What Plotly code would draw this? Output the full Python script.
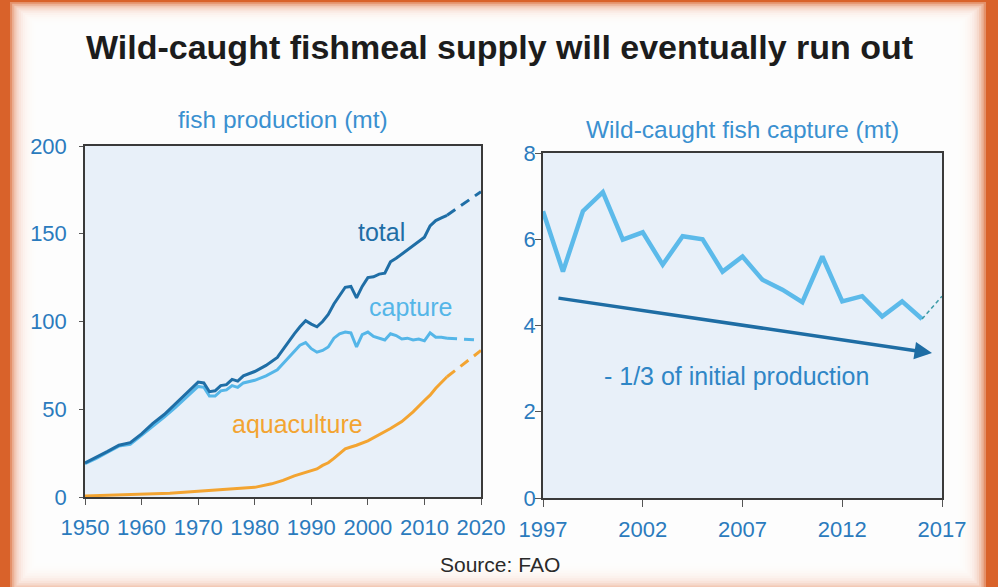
import plotly.graph_objects as go

W, H = 998, 587
FONT = "Liberation Sans, Arial, sans-serif"

# ---------------- data: left chart (fish production, mt) ----------------
total_years = [1950, 1952, 1954, 1956, 1958, 1960, 1962, 1964, 1966, 1968, 1969, 1970,
               1971, 1972, 1973, 1974, 1975, 1976, 1977, 1978, 1980, 1982, 1984, 1985,
               1986, 1987, 1988, 1989, 1990, 1991, 1992, 1993, 1994, 1995, 1996, 1997,
               1998, 1999, 2000, 2001, 2002, 2003, 2004, 2005, 2006, 2007, 2008, 2009,
               2010, 2011, 2012, 2013, 2014]
total_vals = [19.4, 22.5, 26, 29.5, 31, 36, 42, 47, 53, 59, 62, 65.5,
              65, 60, 60.5, 63.5, 64, 67, 66, 69, 71.5, 75, 79.5, 84,
              89, 93, 97, 100.5, 98.5, 97, 100, 104, 110, 115, 119.5, 120,
              113.5, 120, 125, 125.5, 127, 127.5, 134, 136, 138.5, 140.5, 143, 145.5,
              148, 154.5, 157.5, 159, 160.5]
capture_vals = [19, 22, 25.5, 29, 30, 35, 40.5, 45.5, 51, 57, 60, 63,
                62.5, 57.5, 57.5, 60.5, 61, 63.5, 62.5, 65, 66.5, 69, 72.5, 76,
                79.5, 83.5, 86.5, 88, 84.5, 82.5, 83.5, 85.5, 90.5, 93, 94, 93.5,
                85.5, 92.5, 94, 91.5, 90.5, 89.5, 93, 92, 90, 90.5, 89.5, 90,
                89, 93.5, 91, 91, 90.5]
aqua_years = [1950, 1955, 1960, 1965, 1970, 1975, 1980, 1983, 1985, 1987, 1989, 1990,
              1991, 1992, 1993, 1994, 1995, 1996, 1997, 1998, 2000, 2002, 2004, 2006,
              2008, 2010, 2011, 2012, 2013, 2014]
aqua_vals = [0.6, 1, 1.5, 2.2, 3.3, 4.5, 5.5, 7.5, 9.5, 12, 14, 14.8,
             16, 18, 19.5, 22, 25, 27.5, 28.5, 29.5, 32, 35.5, 39, 43,
             48.5, 55, 58, 62, 65.5, 68.5]
# projected (dashed) segments
proj_years = [2014, 2020]
total_proj = [160.5, 174]
capture_proj = [90.5, 89.3]
aqua_proj = [68.5, 83.5]

left_xticks = [1950, 1960, 1970, 1980, 1990, 2000, 2010, 2020]
left_yticks = [0, 50, 100, 150, 200]

# ---------------- data: right chart (wild-caught fish capture, mt) ----------------
wild_years = list(range(1997, 2017))
wild_vals = [6.65, 5.25, 6.65, 7.09, 5.99, 6.16, 5.41, 6.07, 6.0, 5.25,
             5.6, 5.06, 4.83, 4.54, 5.6, 4.56, 4.68, 4.21, 4.56, 4.15]
wild_proj_years = [2016, 2017]
wild_proj_vals = [4.15, 4.68]
trend_start = [1997.7, 4.64]
trend_end = [2016.5, 3.36]

right_xticks = [1997, 2002, 2007, 2012, 2017]
right_yticks = [0, 2, 4, 6, 8]

# ---------------- colours ----------------
C_TOTAL = "#1f6ea6"
C_CAPTURE = "#55b6e8"
C_AQUA = "#f3a431"
C_TICK = "#2b7bbd"
C_TITLE2 = "#3a90d0"
C_ORANGE = "#d9622a"

fig = go.Figure()

def line(x, y, color, width, dash=None, xa="x", ya="y"):
    fig.add_trace(go.Scatter(x=x, y=y, mode="lines", xaxis=xa, yaxis=ya,
                             line=dict(color=color, width=width, dash=dash),
                             hoverinfo="skip", showlegend=False))

line(aqua_years, aqua_vals, C_AQUA, 3)
line(proj_years, aqua_proj, C_AQUA, 3, "10px,7px")
line(total_years, capture_vals, C_CAPTURE, 3)
line(proj_years, capture_proj, C_CAPTURE, 3, "10px,7px")
line(total_years, total_vals, C_TOTAL, 3)
line(proj_years, total_proj, C_TOTAL, 3, "10px,7px")

line(wild_years, wild_vals, "#5cbaea", 4.5, xa="x2", ya="y2")
line(wild_proj_years, wild_proj_vals, "#3a9aa6", 1.5, "4px,3px", xa="x2", ya="y2")

# ---------------- frame shapes (orange border fading to white) ----------------
shapes = []
N = 14
for i in range(N):
    t = i / (N - 1)
    l = 10 + 28 * t
    tp = 2 + 24 * t
    r = 12 + 30 * t
    b = -6 + 32 * t
    shapes.append(dict(type="rect", xref="paper", yref="paper",
                       x0=l / W, x1=1 - r / W, y0=b / H, y1=1 - tp / H,
                       fillcolor="rgba(255,255,255,0.3)", line_width=0, layer="below"))
shapes.append(dict(type="rect", xref="paper", yref="paper",
                   x0=40 / W, x1=1 - 44 / W, y0=28 / H, y1=1 - 28 / H,
                   fillcolor="#fdfdfd", line_width=0, layer="below"))
for xr, yr in (("x", "y"), ("x2", "y2")):
    shapes.append(dict(type="rect", xref=xr + " domain", yref=yr + " domain",
                       x0=0, x1=1, y0=0, y1=1, fillcolor="#e8f0f9",
                       line_width=0, layer="below"))

# ---------------- annotations ----------------
ann = []
ann.append(dict(text="<b>Wild-caught fishmeal supply will eventually run out</b>",
                xref="paper", yref="paper", x=0.5, y=1 - 47 / H, showarrow=False,
                xanchor="center", yanchor="middle",
                font=dict(family=FONT, size=34, color="#1c1c1c")))
ann.append(dict(text="fish production (mt)", xref="paper", yref="paper",
                x=283 / W, y=1 - 120 / H, showarrow=False, xanchor="center", yanchor="middle",
                font=dict(family=FONT, size=24.5, color=C_TITLE2)))
ann.append(dict(text="Wild-caught fish capture (mt)", xref="paper", yref="paper",
                x=742 / W, y=1 - 129 / H, showarrow=False, xanchor="center", yanchor="middle",
                font=dict(family=FONT, size=24.5, color=C_TITLE2)))
ann.append(dict(text="total", x=2002.4, y=151, xref="x", yref="y", showarrow=False,
                font=dict(family=FONT, size=25, color=C_TOTAL)))
ann.append(dict(text="capture", x=2007.6, y=108, xref="x", yref="y", showarrow=False,
                font=dict(family=FONT, size=25, color=C_CAPTURE)))
ann.append(dict(text="aquaculture", x=1987.6, y=41.8, xref="x", yref="y", showarrow=False,
                font=dict(family=FONT, size=25, color=C_AQUA)))
ann.append(dict(text="", x=trend_end[0], y=trend_end[1], xref="x2", yref="y2",
                ax=trend_start[0], ay=trend_start[1], axref="x2", ayref="y2",
                showarrow=True, arrowhead=2, arrowsize=1.0, arrowwidth=3.5,
                arrowcolor="#1e6da4"))
ann.append(dict(text="- 1/3 of initial production", x=2006.7, y=2.82, xref="x2", yref="y2",
                showarrow=False, font=dict(family=FONT, size=25, color="#2f86c6")))
ann.append(dict(text="Source: FAO", xref="paper", yref="paper", x=500 / W, y=1 - 564 / H,
                showarrow=False, xanchor="center", yanchor="middle",
                font=dict(family=FONT, size=21, color="#2a2a2a")))

axis_common = dict(showgrid=False, zeroline=False, showline=True, mirror=True,
                   linecolor="#3a3a3a", linewidth=1.5, ticks="outside",
                   tickcolor="#555555", tickwidth=1.2, automargin=False,
                   tickfont=dict(family=FONT, size=22, color=C_TICK), fixedrange=True)

fig.update_layout(
    width=W, height=H, autosize=False,
    margin=dict(l=0, r=0, t=0, b=0, pad=0),
    paper_bgcolor=C_ORANGE, plot_bgcolor="rgba(0,0,0,0)",
    shapes=shapes, annotations=ann,
    xaxis=dict(domain=[85 / W, 481 / W], range=[1950, 2020], tickvals=left_xticks,
               ticklen=6, ticklabelstandoff=4, anchor="y", **axis_common),
    yaxis=dict(domain=[1 - 497 / H, 1 - 146 / H], range=[0, 200], tickvals=left_yticks,
               ticklen=4, ticklabelstandoff=8, anchor="x", **axis_common),
    xaxis2=dict(domain=[543 / W, 942 / W], range=[1997, 2017], tickvals=right_xticks,
                ticklen=7, ticklabelstandoff=4, anchor="y2", **axis_common),
    yaxis2=dict(domain=[1 - 498 / H, 1 - 153 / H], range=[0, 8], tickvals=right_yticks,
                ticklen=6, ticklabelstandoff=-5, anchor="x2", **axis_common),
)

fig.write_html("out.html", config={"displayModeBar": False},
               post_script="document.body.style.margin='0';document.body.style.overflow='hidden';")
